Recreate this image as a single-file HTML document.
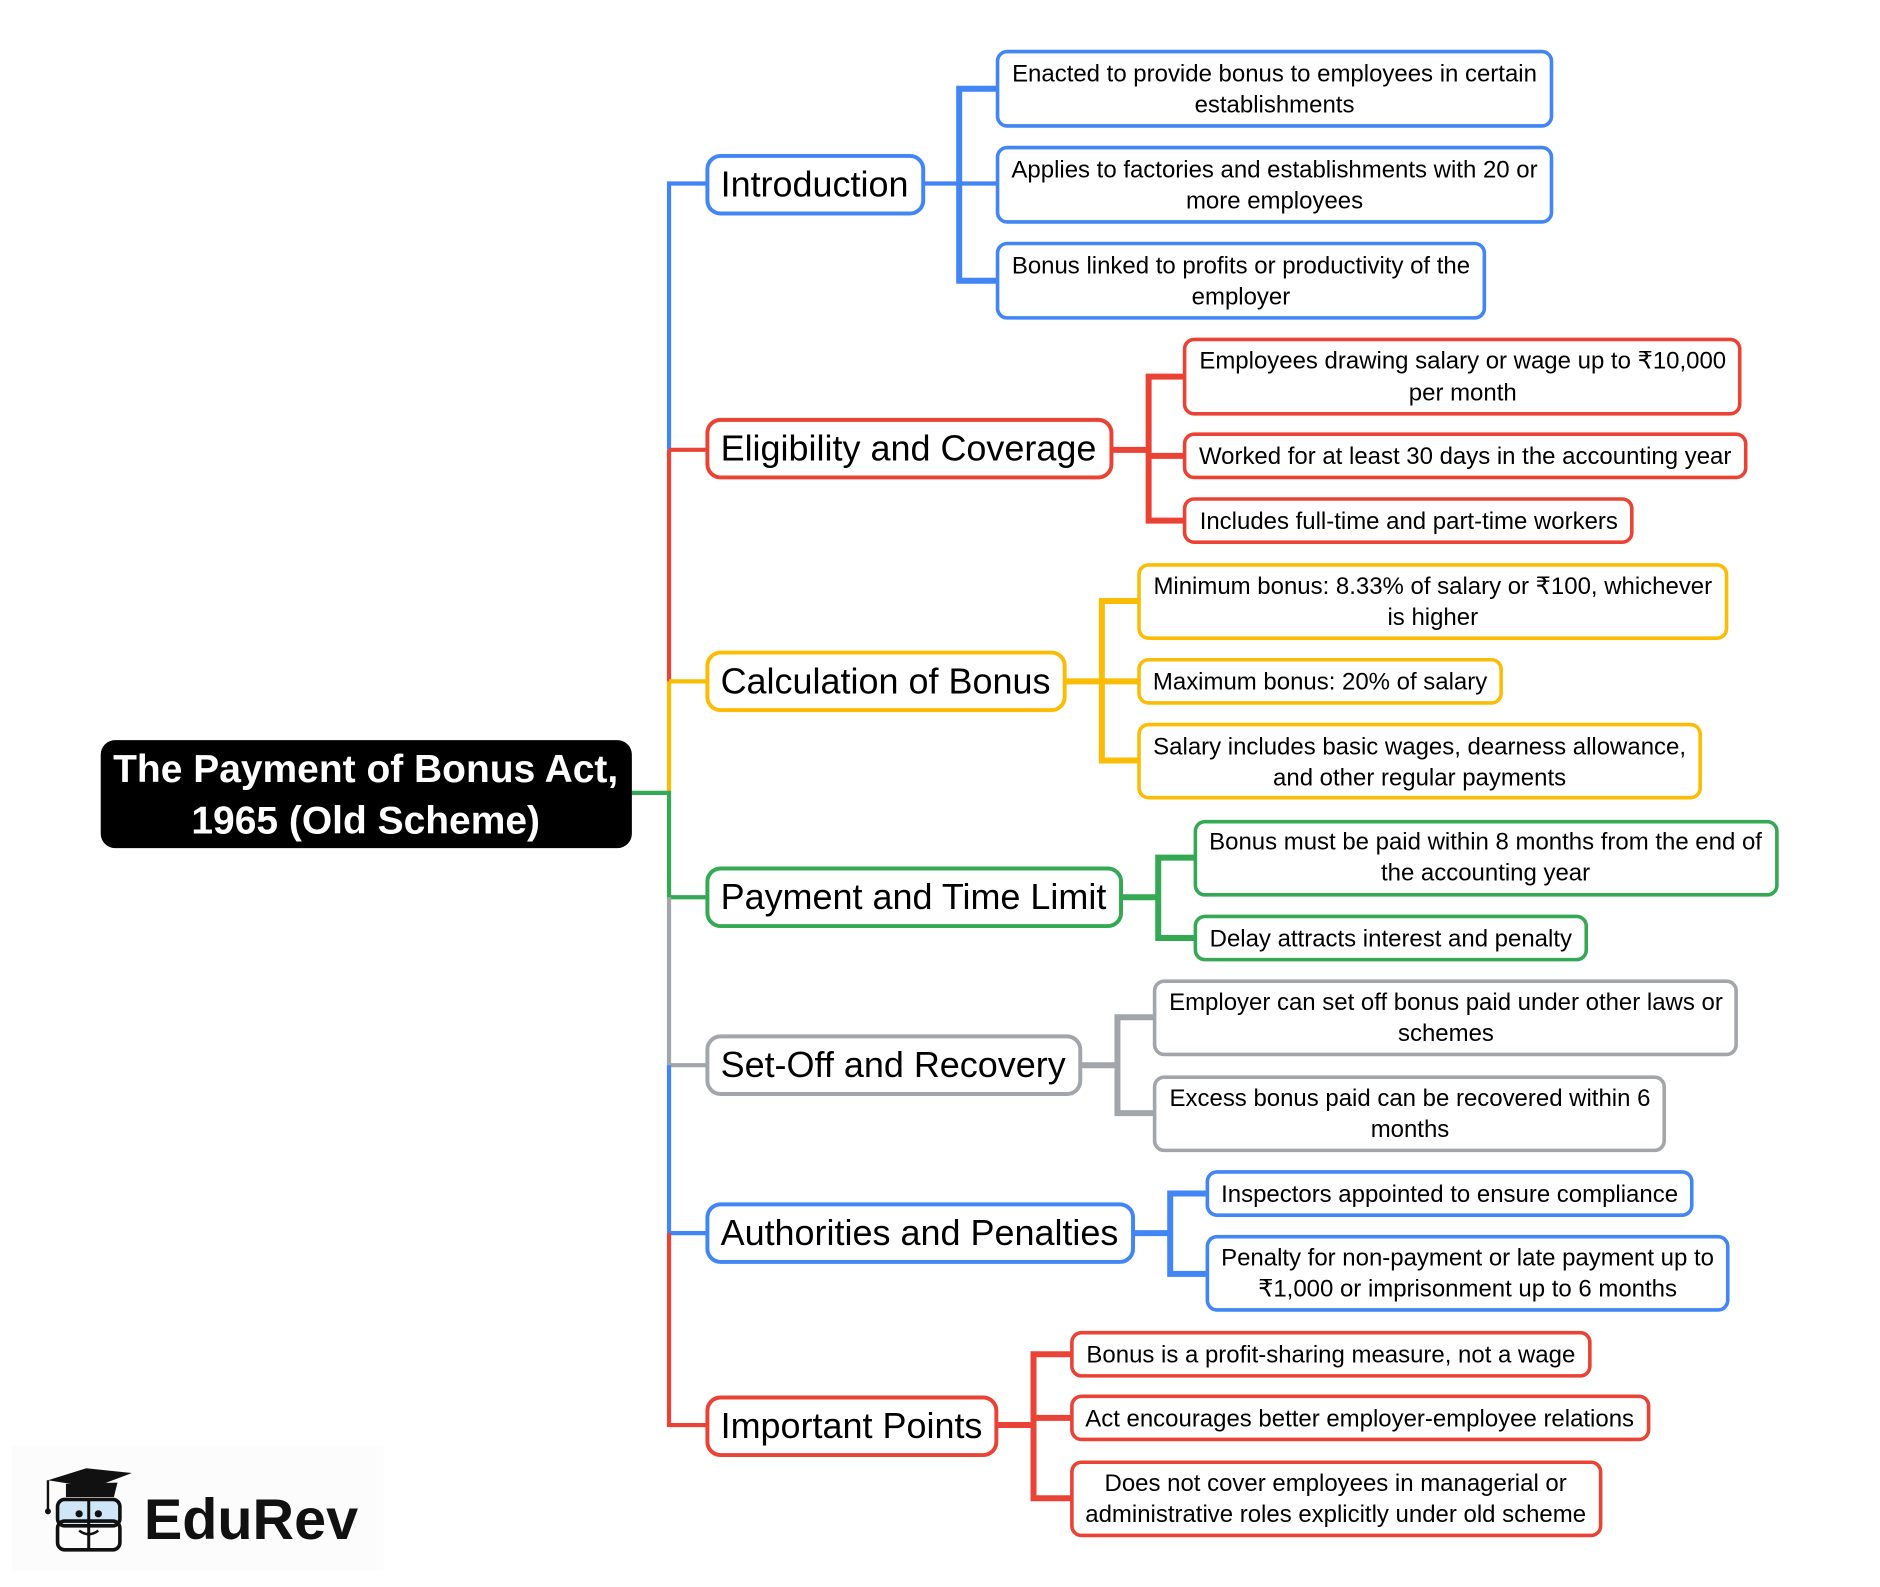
<!DOCTYPE html>
<html><head><meta charset="utf-8"><style>
html,body{margin:0;padding:0;background:#fff;}
svg{display:block;}
text{font-family:"Liberation Sans",sans-serif;}
.c{font-size:20px;fill:#000;text-anchor:middle;}
.b{font-size:30px;fill:#000;}
</style></head><body>
<svg width="1880" height="1587" viewBox="0 0 1568 1323" preserveAspectRatio="none" xmlns="http://www.w3.org/2000/svg">
<g fill="none" stroke-linejoin="miter">
<path d="M590 153 H558 V375" stroke="#4285f4" stroke-width="3.5"/>
<path d="M558 375 V568" stroke="#ea4335" stroke-width="3.5"/>
<path d="M590 375 H558" stroke="#ea4335" stroke-width="3.5"/>
<path d="M558 568 V661 M590 568 H558" stroke="#fbbc05" stroke-width="3.5"/>
<path d="M527 661 H558 V748 H590" stroke="#34a853" stroke-width="3.5"/>
<path d="M558 748 V888 H590" stroke="#a2a5a9" stroke-width="3.5"/>
<path d="M558 888 V1028 H590" stroke="#4285f4" stroke-width="3.5"/>
<path d="M558 1028 V1188 H590" stroke="#ea4335" stroke-width="3.5"/>
<g stroke="#4285f4"><path d="M770 153 H832" stroke-width="3.5"/><path d="M832 74 H800 V234 H832" stroke-width="5"/></g>
<g stroke="#ea4335"><path d="M927 375 H958 M958 380 H988" stroke-width="5"/><path d="M988 314 H958 V434 H988" stroke-width="5"/></g>
<g stroke="#fbbc05"><path d="M888 568 H950" stroke-width="5"/><path d="M950 501 H919 V634 H950" stroke-width="5"/></g>
<g stroke="#34a853"><path d="M935 748 H966" stroke-width="5"/><path d="M997 715 H966 V782 H997" stroke-width="5"/></g>
<g stroke="#a2a5a9"><path d="M901 888 H932" stroke-width="5"/><path d="M963 848 H932 V928 H963" stroke-width="5"/></g>
<g stroke="#4285f4"><path d="M945 1028 H976" stroke-width="5"/><path d="M1007 995 H976 V1062 H1007" stroke-width="5"/></g>
<g stroke="#ea4335"><path d="M831 1188 H862 M862 1182 H894" stroke-width="5"/><path d="M894 1129 H862 V1249 H894" stroke-width="5"/></g>
</g>
<rect x="84" y="617" width="443" height="90" rx="12" fill="#000"/>
<text x="305" y="652" fill="#fff" font-size="32.5" font-weight="bold" text-anchor="middle">The Payment of Bonus Act,</text>
<text x="305" y="695" fill="#fff" font-size="32.5" font-weight="bold" text-anchor="middle">1965 (Old Scheme)</text>
<g fill="#fff" stroke-width="3.3">
<rect x="590" y="130" width="180" height="48" rx="11" stroke="#4285f4"/>
<rect x="590" y="350" width="337" height="48" rx="11" stroke="#ea4335"/>
<rect x="590" y="544" width="298" height="48" rx="11" stroke="#fbbc05"/>
<rect x="590" y="724" width="345" height="48" rx="11" stroke="#34a853"/>
<rect x="590" y="864" width="311" height="48" rx="11" stroke="#a2a5a9"/>
<rect x="590" y="1004" width="355" height="48" rx="11" stroke="#4285f4"/>
<rect x="590" y="1165" width="241" height="48" rx="11" stroke="#ea4335"/>
</g>
<text class="b" x="601" y="164">Introduction</text>
<text class="b" x="601" y="384">Eligibility and Coverage</text>
<text class="b" x="601" y="578">Calculation of Bonus</text>
<text class="b" x="601" y="758">Payment and Time Limit</text>
<text class="b" x="601" y="898">Set-Off and Recovery</text>
<text class="b" x="601" y="1038">Authorities and Penalties</text>
<text class="b" x="601" y="1199">Important Points</text>
<g fill="#fff" stroke-width="3">
<rect x="832" y="43" width="462" height="62" rx="8" stroke="#4285f4"/>
<rect x="832" y="123" width="462" height="62" rx="8" stroke="#4285f4"/>
<rect x="832" y="203" width="406" height="62" rx="8" stroke="#4285f4"/>
<rect x="988" y="283" width="463" height="62" rx="8" stroke="#ea4335"/>
<rect x="988" y="362" width="468" height="36" rx="8" stroke="#ea4335"/>
<rect x="988" y="416" width="373" height="36" rx="8" stroke="#ea4335"/>
<rect x="950" y="471" width="490" height="61" rx="8" stroke="#fbbc05"/>
<rect x="950" y="550" width="302" height="36" rx="8" stroke="#fbbc05"/>
<rect x="950" y="604" width="468" height="61" rx="8" stroke="#fbbc05"/>
<rect x="997" y="685" width="485" height="61" rx="8" stroke="#34a853"/>
<rect x="997" y="764" width="326" height="36" rx="8" stroke="#34a853"/>
<rect x="963" y="818" width="485" height="61" rx="8" stroke="#a2a5a9"/>
<rect x="963" y="898" width="425" height="61" rx="8" stroke="#a2a5a9"/>
<rect x="1007" y="977" width="404" height="36" rx="8" stroke="#4285f4"/>
<rect x="1007" y="1031" width="434" height="61" rx="8" stroke="#4285f4"/>
<rect x="894" y="1111" width="432" height="36" rx="8" stroke="#ea4335"/>
<rect x="894" y="1164" width="481" height="36" rx="8" stroke="#ea4335"/>
<rect x="894" y="1219" width="441" height="61" rx="8" stroke="#ea4335"/>
</g>
<text class="c" x="1063" y="68">Enacted to provide bonus to employees in certain</text>
<text class="c" x="1063" y="94">establishments</text>
<text class="c" x="1063" y="148">Applies to factories and establishments with 20 or</text>
<text class="c" x="1063" y="174">more employees</text>
<text class="c" x="1035" y="228">Bonus linked to profits or productivity of the</text>
<text class="c" x="1035" y="254">employer</text>
<text class="c" x="1220" y="307">Employees drawing salary or wage up to ₹10,000</text>
<text class="c" x="1220" y="334">per month</text>
<text class="c" x="1222" y="387">Worked for at least 30 days in the accounting year</text>
<text class="c" x="1175" y="441">Includes full-time and part-time workers</text>
<text class="c" x="1195" y="495">Minimum bonus: 8.33% of salary or ₹100, whichever</text>
<text class="c" x="1195" y="521">is higher</text>
<text class="c" x="1101" y="575">Maximum bonus: 20% of salary</text>
<text class="c" x="1184" y="629">Salary includes basic wages, dearness allowance,</text>
<text class="c" x="1184" y="655">and other regular payments</text>
<text class="c" x="1239" y="708">Bonus must be paid within 8 months from the end of</text>
<text class="c" x="1239" y="734">the accounting year</text>
<text class="c" x="1160" y="789">Delay attracts interest and penalty</text>
<text class="c" x="1206" y="842">Employer can set off bonus paid under other laws or</text>
<text class="c" x="1206" y="868">schemes</text>
<text class="c" x="1176" y="922">Excess bonus paid can be recovered within 6</text>
<text class="c" x="1176" y="948">months</text>
<text class="c" x="1209" y="1002">Inspectors appointed to ensure compliance</text>
<text class="c" x="1224" y="1055">Penalty for non-payment or late payment up to</text>
<text class="c" x="1224" y="1081">₹1,000 or imprisonment up to 6 months</text>
<text class="c" x="1110" y="1136">Bonus is a profit-sharing measure, not a wage</text>
<text class="c" x="1134" y="1189">Act encourages better employer-employee relations</text>
<text class="c" x="1114" y="1243">Does not cover employees in managerial or</text>
<text class="c" x="1114" y="1269">administrative roles explicitly under old scheme</text>
<rect x="10" y="1205" width="310" height="105" fill="#fcfcfc"/>
<polygon points="40,1234 72,1224 110,1228 78,1240" fill="#111"/>
<path d="M55,1237 L55,1248 L95,1248 L98,1236" fill="#111"/>
<line x1="40" y1="1234" x2="40" y2="1258" stroke="#111" stroke-width="2"/>
<circle cx="40" cy="1260" r="2.5" fill="#111"/>
<rect x="48" y="1250" width="52" height="22" rx="6" fill="#cfe6f7" stroke="#111" stroke-width="3"/>
<rect x="48" y="1268" width="52" height="24" rx="6" fill="none" stroke="#111" stroke-width="3"/>
<line x1="74" y1="1250" x2="74" y2="1292" stroke="#111" stroke-width="2.5"/>
<circle cx="66" cy="1262" r="3" fill="#111"/><circle cx="82" cy="1262" r="3" fill="#111"/>
<path d="M66,1276 Q74,1282 82,1276" fill="none" stroke="#111" stroke-width="2"/>
<text x="120" y="1283" font-size="48" font-weight="bold" fill="#111">EduRev</text>
</svg>
</body></html>
